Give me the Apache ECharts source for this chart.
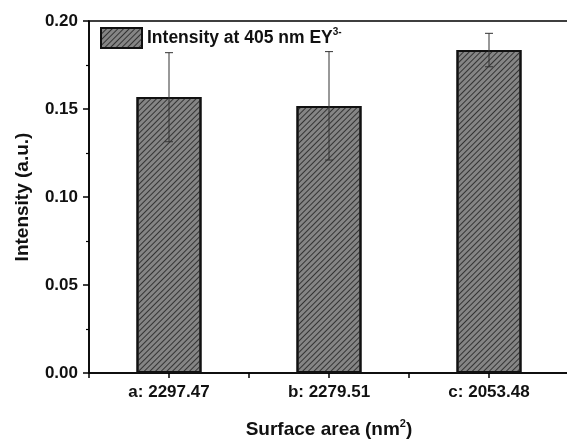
<!DOCTYPE html>
<html>
<head>
<meta charset="utf-8">
<script src="https://cdn.jsdelivr.net/npm/echarts@6/dist/echarts.min.js"></script>
<style>
  html, body { margin: 0; padding: 0; background: #fff; }
  #chart { width: 567px; height: 441px; }
</style>
</head>
<body>
<div id="chart"></div>
<script>
const categories = ['a: 2297.47', 'b: 2279.51', 'c: 2053.48'];
const intensity = [0.1568, 0.1517, 0.1835];
const errLow = [0.1314, 0.1210, 0.1740];
const errHigh = [0.1820, 0.1826, 0.1930];
const yTicks = [0, 0.05, 0.10, 0.15, 0.20];

(function () {
  let myChart = echarts.init(document.getElementById('chart'));
  let font = 'Liberation Sans, Arial, sans-serif';

  let errData = categories.map(function (c, i) {
    return [i, errLow[i], errHigh[i]];
  });

  let option = {
    animation: false,
    backgroundColor: '#fff',
    grid: {
      left: 89, top: 21, right: -2, bottom: 68,
      outerBoundsMode: 'none',
      show: true, borderColor: '#000', borderWidth: 1.5
    },
    legend: {
      left: 100, top: 27, padding: 0,
      icon: 'rect',
      itemWidth: 41, itemHeight: 20, itemGap: 6,
      data: ['Intensity at 405 nm EY3-'],
      formatter: function () { return '{a|Intensity at 405 nm EY}{s|3-}'; },
      textStyle: {
        rich: {
          a: { fontFamily: font, fontWeight: 'bold', fontSize: 17.5, color: '#111' },
          s: { fontFamily: font, fontWeight: 'bold', fontSize: 10, color: '#111', verticalAlign: 'top', padding: [0, 0, 12, 0] }
        }
      }
    },
    xAxis: [
      {
        type: 'category',
        data: categories,
        name: '{a|Surface area (nm}{s|2}{a|)}',
        nameLocation: 'middle',
        nameGap: 45,
        nameTextStyle: {
          rich: {
            a: { fontFamily: font, fontWeight: 'bold', fontSize: 19, color: '#111' },
            s: { fontFamily: font, fontWeight: 'bold', fontSize: 11, color: '#111', verticalAlign: 'top', padding: [0, 0, 12, 0] }
          }
        },
        axisLine: { lineStyle: { color: '#000', width: 1.5 } },
        axisTick: { show: true, length: 5, inside: false, lineStyle: { color: '#000', width: 1.5 } },
        axisLabel: { fontFamily: font, fontWeight: 'bold', fontSize: 17, color: '#111', margin: 11 },
        splitLine: { show: false }
      },
      {
        type: 'category',
        position: 'bottom',
        data: categories,
        axisLine: { show: false },
        axisTick: { show: true, alignWithLabel: true, length: 5, lineStyle: { color: '#000', width: 1.5 } },
        axisLabel: { show: false },
        splitLine: { show: false }
      }
    ],
    yAxis: {
      type: 'value',
      min: yTicks[0],
      max: yTicks[yTicks.length - 1],
      interval: 0.05,
      name: 'Intensity (a.u.)',
      nameLocation: 'middle',
      nameGap: 57,
      nameTextStyle: { fontFamily: font, fontWeight: 'bold', fontSize: 19, color: '#111' },
      axisLine: { show: true, lineStyle: { color: '#000', width: 1.5 } },
      axisTick: { show: true, length: 6, lineStyle: { color: '#000', width: 1.5 } },
      minorTick: { show: true, splitNumber: 2, length: 3, lineStyle: { color: '#000', width: 1.2 } },
      axisLabel: {
        fontFamily: font, fontWeight: 'bold', fontSize: 17, color: '#111', margin: 11,
        formatter: function (v) { return v.toFixed(2); }
      },
      splitLine: { show: false }
    },
    series: [
      {
        name: 'Intensity at 405 nm EY3-',
        type: 'bar',
        data: intensity,
        barWidth: 65,
        itemStyle: {
          color: '#858585',
          borderColor: '#111',
          borderWidth: 2,
          decal: {
            symbol: 'rect',
            symbolSize: 1,
            color: '#333',
            dashArrayX: [1, 0],
            dashArrayY: [1, 2.6],
            rotation: -Math.PI / 4
          }
        }
      },
      {
        type: 'custom',
        name: 'error',
        data: errData,
        encode: { x: 0, y: [1, 2] },
        z: 10,
        renderItem: function (params, api) {
          let x = api.value(0);
          let lo = api.coord([x, api.value(1)]);
          let hi = api.coord([x, api.value(2)]);
          let half = 4;
          let style = { stroke: '#333', lineWidth: 1 };
          return {
            type: 'group',
            children: [
              { type: 'line', shape: { x1: hi[0], y1: hi[1], x2: lo[0], y2: lo[1] }, style: style },
              { type: 'line', shape: { x1: hi[0] - half, y1: hi[1], x2: hi[0] + half, y2: hi[1] }, style: style },
              { type: 'line', shape: { x1: lo[0] - half, y1: lo[1], x2: lo[0] + half, y2: lo[1] }, style: style }
            ]
          };
        }
      }
    ]
  };

  myChart.setOption(option);
})();
</script>
</body>
</html>
